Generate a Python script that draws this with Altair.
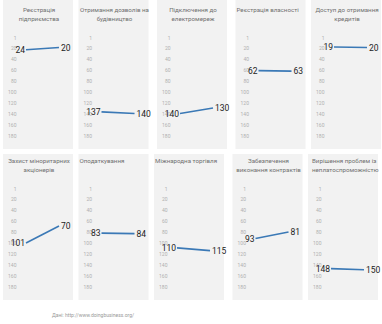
import altair as alt
import pandas as pd

titles = [
    ["Реєстрація", "підприємства"],
    ["Отримання дозволів на", "будівництво"],
    ["Підключення до", "електромереж"],
    ["Реєстрація власності"],
    ["Доступ до отримання", "кредитів"],
    ["Захист міноритарних", "акціонерів"],
    ["Оподаткування"],
    ["Міжнародна торгівля"],
    ["Забезпечення", "виконання контрактів"],
    ["Вирішення проблем із", "неплатоспроможністю"],
]
start_rank = [24, 137, 140, 62, 19, 101, 83, 110, 93, 148]
end_rank = [20, 140, 130, 63, 20, 70, 84, 115, 81, 150]
tick_values = [1, 20, 40, 60, 80, 100, 120, 140, 160, 180]
caption = "Дані: http://www.doingbusiness.org/"

FONT = "Roboto"
LINE = "#3b79b6"
W = 70


def panel(i):
    row = i // 5
    h = 149 if row == 0 else 146
    dom = [-66.4, 204.5] if row == 0 else [-61.9, 205.5]
    df = pd.DataFrame({
        "x": [0, 1],
        "rank": [start_rank[i], end_rank[i]],
    })
    t = titles[i]
    if len(t) == 1:
        anchor, dx = "start", 1
        off = -13 if row == 0 else -10.5
    else:
        anchor, dx = "middle", 1
        off = -22.5 if row == 0 else -19.5
    if i == 9:
        anchor, dx = "start", 4
    xs = alt.X("x:Q", axis=None, scale=alt.Scale(domain=[-0.697, 1.424], nice=False, zero=False))
    ys = alt.Y(
        "rank:Q",
        scale=alt.Scale(domain=dom, nice=False, zero=False, reverse=True),
        axis=alt.Axis(
            values=tick_values, title=None, grid=False, domain=False, ticks=False,
            offset=-13, labelPadding=0, labelFontSize=5, labelColor="#b0b0b0",
            labelFont=FONT, labelBound=False, labelFlush=False, labelOverlap=False,
        ),
    )
    base = alt.Chart(df)
    line = base.mark_line(color=LINE, strokeWidth=1.6).encode(x=xs, y=ys)
    left = base.transform_filter("datum.x == 0").mark_text(
        align="right", baseline="middle", dx=-1, fontSize=8.5, font=FONT, color="#222222"
    ).encode(x=xs, y=ys, text="rank:Q")
    right = base.transform_filter("datum.x == 1").mark_text(
        align="left", baseline="middle", dx=2, fontSize=8.5, font=FONT, color="#222222"
    ).encode(x=xs, y=ys, text="rank:Q")
    return alt.layer(line, left, right).properties(
        width=W, height=h,
        title=alt.TitleParams(
            text=t, anchor=anchor, dx=dx, offset=off, fontSize=6.2, font=FONT,
            color="#707070", fontWeight="normal", lineHeight=9.5,
        ),
    )


rows = [
    alt.hconcat(*[panel(i) for i in range(r * 5, r * 5 + 5)], spacing=5.5)
    for r in range(2)
]
chart = alt.vconcat(*rows, spacing=5).properties(
    title=alt.TitleParams(
        text=caption, orient="bottom", anchor="start", dx=49, offset=13,
        fontSize=5, font=FONT, color="#999999", fontWeight="normal",
    ),
    padding={"left": 3, "top": 0, "right": 0, "bottom": 0},
    background="white",
).configure_view(fill="#f2f2f2", stroke=None).configure_concat(spacing=5)

chart.save("out.html", embed_options={"renderer": "svg", "actions": False})
